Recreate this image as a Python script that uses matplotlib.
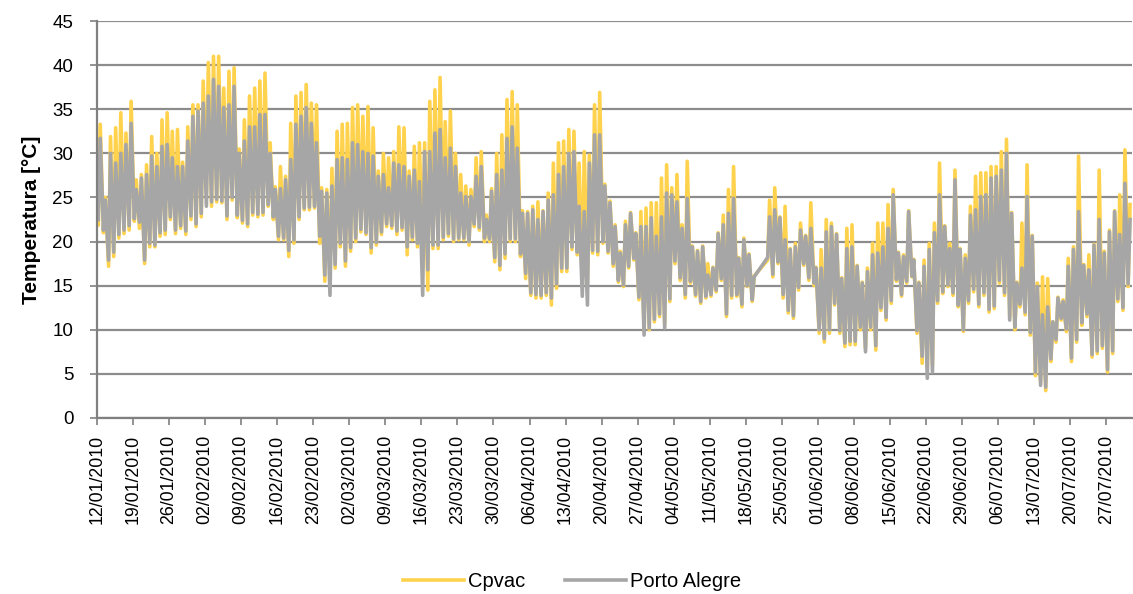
import numpy as np
import pandas as pd
import matplotlib
matplotlib.use('Agg')
import matplotlib.pyplot as plt
import matplotlib.dates as mdates

plt.rcParams['font.family'] = ['Liberation Sans', 'DejaVu Sans']

# daily extremes, 12/01/2010 .. 31/07/2010 (None = no data)
cpvac_max = [33.3, 25.0, 31.9, 32.9, 34.6, 32.3, 35.9, 27.0, 27.6, 28.7, 31.9, 30.0, 33.8, 34.6, 32.5, 32.7, 29.0, 33.0, 35.5, 35.5,
             38.2, 40.3, 41.0, 41.0, 37.4, 39.3, 39.7, 30.5, 33.8, 36.5, 37.4, 38.2, 39.1, 31.2, 26.2, 28.5, 27.4, 33.4, 36.5, 36.9,
             37.8, 35.7, 35.5, 26.1, 25.9, 28.3, 32.5, 33.3, 33.4, 35.2, 35.5, 34.2, 35.3, 32.9, 28.0, 30.0, 29.5, 30.2, 33.0, 32.9,
             28.0, 30.8, 31.2, 31.2, 35.9, 37.2, 38.6, 33.6, 34.8, 30.0, 27.6, 26.3, 25.9, 29.5, 30.2, 23.0, 26.0, 30.0, 32.1, 36.1,
             37.0, 35.5, 23.5, 23.4, 24.0, 24.5, 23.5, 25.5, 28.9, 31.2, 31.4, 32.7, 32.5, 28.9, 30.2, 29.8, 35.5, 36.9, 26.5, 24.6,
             21.9, 18.9, 22.3, 23.3, 21.0, 23.4, 23.8, 24.4, 24.4, 27.2, 28.7, 26.1, 27.6, 21.9, 29.1, 19.5, 19.0, 19.5, 17.5, 17.1,
             21.0, 23.0, 25.9, 28.5, 18.2, 20.4, 18.6, 16.1, None, None, 24.7, 26.1, 22.8, 24.0, 19.2, 19.8, 22.1, 20.7, 24.4, 17.1,
             19.1, 22.5, 22.1, 20.9, 15.9, 21.5, 21.9, 17.3, 15.4, 17.0, 19.8, 22.1, 22.1, 24.2, 25.9, 18.8, 18.5, 23.5, 18.0, 15.4,
             17.9, 19.8, 22.1, 28.9, 21.8, 19.8, 28.1, 19.2, 18.5, 24.0, 27.4, 27.8, 27.8, 28.5, 28.5, 30.2, 31.6, 23.3, 15.4, 22.1,
             28.7, 20.7, 15.3, 16.0, 15.8, 10.9, 13.7, 13.4, 18.1, 19.4, 29.7, 17.4, 18.5, 19.7, 28.1, 18.9, 21.3, 23.5, 25.3, 30.4,
             24.2]
cpvac_min = [21.9, 21.0, 17.2, 18.3, 20.4, 20.9, 21.3, 22.3, 21.5, 17.5, 19.4, 19.4, 20.6, 20.8, 22.5, 20.9, 21.5, 20.8, 22.5, 21.7,
             22.8, 25.5, 24.0, 24.5, 24.4, 22.5, 24.7, 22.7, 22.1, 21.7, 23.0, 22.8, 23.0, 24.0, 22.5, 20.2, 20.2, 18.3, 19.8, 22.5,
             23.6, 23.6, 23.8, 19.8, 15.5, 16.4, 17.0, 19.4, 17.2, 18.9, 20.0, 21.1, 20.8, 18.7, 19.6, 20.8, 21.7, 21.5, 20.8, 21.3,
             18.5, 20.2, 19.4, 17.0, 14.5, 19.2, 19.2, 20.2, 20.6, 20.0, 20.2, 20.2, 19.6, 21.7, 21.3, 20.0, 20.0, 17.7, 16.8, 18.1,
             20.0, 20.0, 18.3, 15.8, 13.9, 13.6, 13.6, 13.9, 12.8, 14.7, 16.6, 16.6, 19.1, 18.5, 15.0, 15.5, 18.7, 18.5, 19.8, 18.7,
             17.2, 15.4, 14.9, 17.0, 17.9, 13.4, 9.8, 10.0, 10.9, 11.5, 10.6, 13.2, 17.5, 15.6, 13.6, 15.3, 13.8, 13.0, 13.6, 13.8,
             14.3, 15.6, 11.5, 13.6, 13.8, 12.6, 14.9, 13.2, None, None, 17.9, 16.0, 17.5, 13.6, 11.9, 11.3, 14.5, 17.3, 15.6, 15.0,
             9.6, 8.6, 9.6, 12.8, 9.6, 8.1, 8.3, 8.3, 10.0, 7.9, 10.0, 7.7, 12.2, 11.1, 13.0, 15.5, 13.8, 15.3, 16.0, 9.6,
             6.2, 5.5, 6.0, 13.0, 14.1, 14.9, 13.9, 12.6, 9.8, 13.0, 14.3, 12.6, 13.9, 12.0, 12.4, 15.3, 13.9, 11.5, 10.0, 12.6,
             11.7, 9.4, 4.8, 4.2, 3.1, 6.4, 8.6, 11.1, 9.8, 6.4, 8.6, 10.5, 11.5, 6.9, 7.3, 7.9, 5.2, 7.3, 13.2, 12.2,
             14.9]
poa_max = [31.7, 24.7, 30.0, 28.9, 30.0, 31.0, 33.4, 25.9, 27.2, 27.6, 29.7, 28.5, 30.8, 31.0, 29.5, 28.5, 28.5, 31.4, 34.2, 34.8,
           35.7, 36.5, 38.4, 37.6, 35.2, 35.5, 37.6, 30.0, 31.4, 33.0, 33.0, 34.4, 34.4, 30.0, 25.9, 26.0, 27.0, 29.3, 33.3, 34.2,
           35.2, 33.4, 31.2, 25.7, 25.5, 26.3, 29.3, 29.5, 29.3, 31.2, 31.0, 30.2, 30.0, 29.7, 27.4, 27.6, 26.1, 28.9, 28.7, 28.5,
           27.4, 28.1, 26.8, 30.2, 30.2, 32.3, 32.7, 29.5, 30.6, 28.5, 25.5, 25.1, 25.1, 27.4, 28.5, 22.5, 25.7, 27.6, 28.1, 31.7,
           33.0, 30.6, 23.2, 23.2, 23.6, 22.5, 23.4, 24.7, 25.3, 27.6, 28.5, 30.0, 30.2, 24.0, 23.4, 28.9, 32.1, 32.1, 26.3, 24.4,
           21.7, 18.7, 21.9, 23.2, 20.9, 21.7, 21.7, 22.7, 20.6, 22.8, 25.5, 25.3, 24.5, 21.5, 24.9, 19.4, 18.9, 19.4, 16.2, 17.0,
           20.9, 21.9, 23.2, 24.9, 18.1, 20.2, 18.5, 16.0, None, None, 22.8, 23.6, 22.7, 20.2, 19.1, 19.4, 21.3, 20.6, 21.5, 17.0,
           17.0, 21.1, 21.7, 20.8, 15.8, 19.2, 19.4, 17.2, 15.3, 16.6, 18.5, 18.7, 19.4, 21.5, 25.3, 18.7, 18.3, 23.4, 17.9, 15.3,
           17.2, 19.1, 21.0, 25.3, 21.7, 19.2, 27.0, 19.1, 18.1, 23.0, 23.6, 25.1, 25.3, 27.2, 27.4, 28.1, 30.0, 23.2, 15.3, 17.0,
           25.1, 20.6, 14.9, 11.7, 12.6, 10.9, 13.6, 13.2, 17.2, 19.1, 23.4, 17.3, 16.8, 19.6, 22.5, 18.7, 21.1, 23.4, 20.8, 26.6,
           22.5]
poa_min = [22.5, 21.3, 17.9, 18.8, 20.8, 21.3, 21.8, 22.6, 22.2, 17.9, 19.8, 19.6, 21.0, 21.3, 22.8, 21.3, 21.8, 21.2, 22.9, 22.0,
           23.2, 24.0, 24.5, 24.8, 24.6, 22.9, 25.0, 23.0, 22.4, 22.0, 23.3, 23.1, 23.3, 24.2, 22.8, 20.6, 20.4, 19.0, 20.2, 22.8,
           23.8, 23.9, 24.0, 20.6, 16.2, 13.9, 17.4, 19.8, 17.8, 19.3, 20.4, 21.4, 21.0, 19.3, 19.9, 21.1, 22.0, 21.8, 21.2, 21.6,
           19.4, 20.5, 19.8, 13.9, 16.8, 19.6, 19.6, 20.5, 20.9, 20.3, 20.4, 20.4, 20.0, 22.0, 21.6, 20.4, 20.3, 18.2, 17.3, 18.6,
           20.3, 20.3, 18.6, 16.4, 14.2, 14.0, 13.9, 14.2, 13.6, 15.2, 17.0, 17.0, 19.4, 18.8, 13.8, 12.8, 19.0, 18.9, 20.0, 18.9,
           17.5, 15.6, 15.1, 17.2, 18.1, 13.7, 9.4, 10.2, 11.2, 11.8, 10.2, 13.5, 17.8, 15.9, 14.0, 15.5, 14.0, 13.2, 13.8, 14.0,
           14.5, 15.8, 11.8, 13.9, 14.0, 12.9, 15.0, 13.4, None, None, 18.2, 16.3, 17.7, 14.0, 12.2, 11.6, 14.8, 17.5, 15.9, 15.3,
           10.0, 9.0, 10.0, 13.0, 9.9, 8.5, 8.7, 8.7, 10.3, 7.5, 10.3, 8.2, 12.5, 11.4, 13.3, 15.7, 14.0, 15.5, 16.1, 9.9,
           7.0, 4.5, 5.2, 13.3, 14.3, 15.1, 14.2, 12.8, 10.0, 13.3, 14.6, 12.9, 14.2, 12.3, 12.7, 15.6, 14.2, 11.1, 10.3, 12.9,
           12.0, 9.7, 5.2, 3.7, 3.5, 6.7, 8.9, 11.3, 10.1, 6.8, 8.9, 10.8, 11.8, 7.2, 7.6, 8.2, 5.5, 7.6, 13.5, 12.5,
           15.2]

days = pd.date_range('2010-01-12', periods=len(cpvac_max), freq='D')

def series(mins, maxs):
    s = pd.concat([pd.Series(mins, index=days + pd.Timedelta(hours=6), dtype=float),
                   pd.Series(maxs, index=days + pd.Timedelta(hours=15), dtype=float)])
    return s.sort_index().dropna()

cp = series(cpvac_min, cpvac_max)
pa = series(poa_min, poa_max)

fig = plt.figure(figsize=(11.33, 5.94), dpi=100)
ax = fig.add_axes([0.0856, 0.2963, 0.9135, 0.6683])
ax.plot(cp.index, cp.values, color='#FFD24D', lw=2.6, label='Cpvac', solid_joinstyle='round')
ax.plot(pa.index, pa.values, color='#A6A6A6', lw=2.6, label='Porto Alegre', solid_joinstyle='round')

ax.set_ylim(0, 45); ax.set_yticks(np.arange(0, 46, 5))
ax.set_xlim(pd.Timestamp('2010-01-12'), pd.Timestamp('2010-08-01'))
ax.set_xticks(pd.date_range('2010-01-12', '2010-07-27', freq='7D'))
ax.xaxis.set_major_formatter(mdates.DateFormatter('%d/%m/%Y'))
plt.setp(ax.get_xticklabels(), rotation=90)
ax.tick_params(axis='both', direction='out', length=5, width=1.2, color='#808080')
ax.tick_params(axis='y', pad=12, labelsize=13.5)
ax.tick_params(axis='x', pad=7, labelsize=12.8)
ax.grid(axis='y', color='#8C8C8C', lw=1.6)
ax.set_axisbelow(True)
for s in ['top', 'right']:
    ax.spines[s].set_visible(False)
for s in ['left', 'bottom']:
    ax.spines[s].set_color('#808080'); ax.spines[s].set_linewidth(1.6)
ax.set_ylabel('Temperatura [°C]', fontsize=15, fontweight='bold', labelpad=8)

fig.legend(loc='lower center', ncol=2, frameon=False, fontsize=14.5, handlelength=3.0,
           handletextpad=0.2, columnspacing=2.0, bbox_to_anchor=(0.505, -0.025))
fig.savefig('out.png', dpi=100)
